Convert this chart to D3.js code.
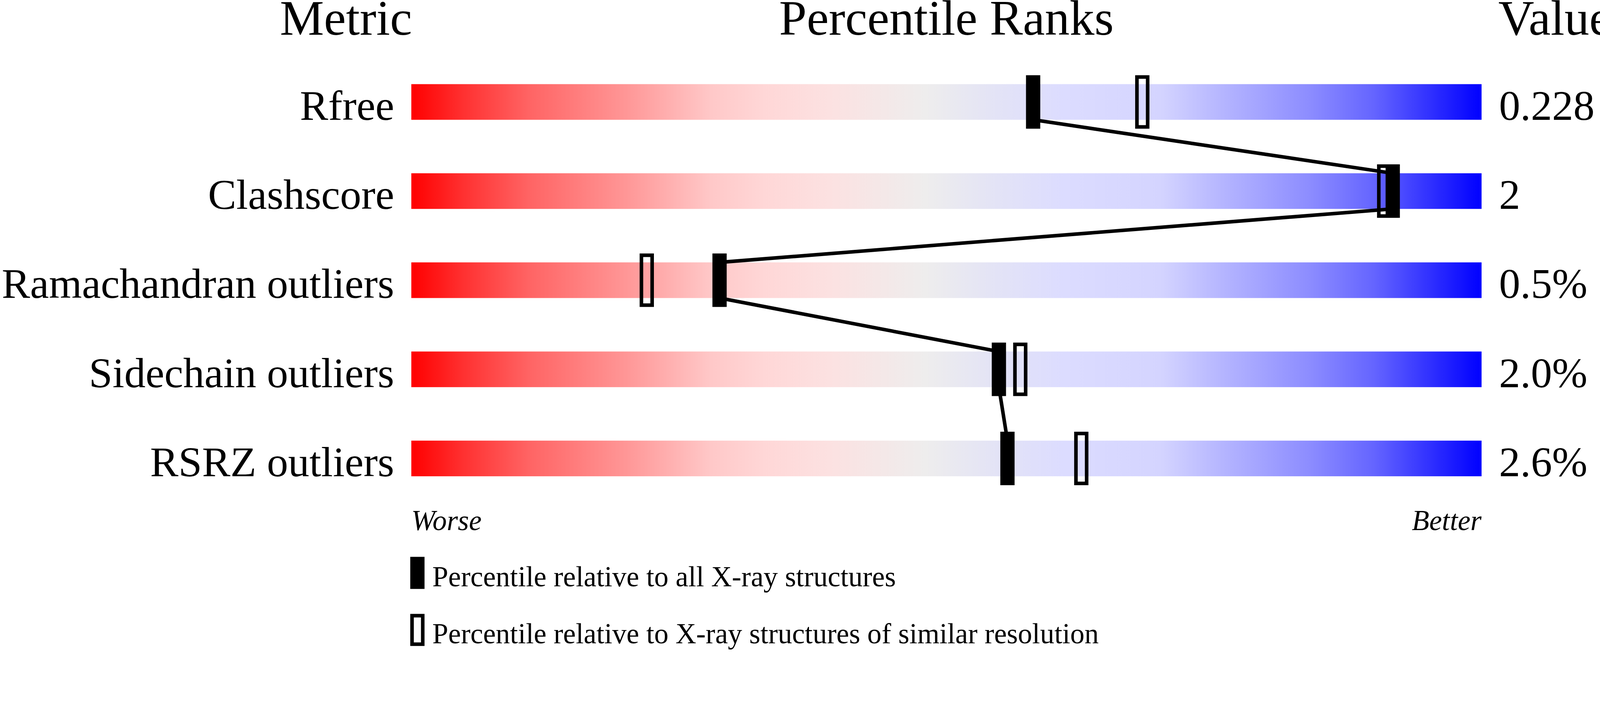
<!DOCTYPE html>
<html>
<head>
<meta charset="utf-8">
<script src="https://cdn.jsdelivr.net/npm/d3@7"></script>
<style>
  html, body { margin: 0; padding: 0; background: #fff; overflow: hidden; }
  svg { display: block; width: 100vw; height: 100vh; }
  text { font-family: "Liberation Serif", "Times New Roman", serif; fill: #000; }
</style>
</head>
<body>
<svg id="chart"></svg>
<script>
// data
const metrics = ["Rfree", "Clashscore", "Ramachandran outliers", "Sidechain outliers", "RSRZ outliers"];
const values = ["0.228", "2", "0.5%", "2.0%", "2.6%"];
// percentile relative to all X-ray structures (filled marker)
const pctAll = [58.1, 91.7, 28.8, 54.9, 55.7];
// percentile relative to structures of similar resolution (open marker)
const pctSimilar = [68.3, 90.9, 22.0, 56.9, 62.6];
const headers = ["Metric", "Percentile Ranks", "Value"];
const legendLabels = ["Percentile relative to all X-ray structures",
                      "Percentile relative to X-ray structures of similar resolution"];

const width = 4485, height = 1824;
// draw in a fixed 4485x1824 space, fit it to the window width, keep it at the top
const svg = d3.select("#chart")
  .attr("viewBox", `0 0 ${width} ${height}`)
  .attr("preserveAspectRatio", "xMidYMin meet");

const x = d3.scaleLinear().domain([0, 100]).range([1153, 4153]);
const y = d3.scaleBand()
  .domain(metrics)
  .range([161, 1411])
  .paddingInner(0.6)
  .paddingOuter(0.3);

const markW = 40, markOver = 25;

// red -> grey -> blue slider gradient
const grad = svg.append("defs").append("linearGradient")
  .attr("id", "slider")
  .attr("x1", "0%").attr("x2", "100%").attr("y1", "0%").attr("y2", "0%");
[
  [0, "rgb(255,0,0)"], [0.05, "rgb(255,50,50)"], [0.11, "rgb(255,100,100)"],
  [0.2, "rgb(255,150,150)"], [0.28, "rgb(255,200,200)"], [0.33, "rgb(255,215,215)"],
  [0.39, "rgb(252,225,225)"], [0.48, "rgb(238,237,237)"], [0.54, "rgb(228,228,245)"],
  [0.61, "rgb(220,220,255)"], [0.7, "rgb(212,212,255)"], [0.76, "rgb(180,180,255)"],
  [0.84, "rgb(140,140,255)"], [0.9, "rgb(100,100,255)"], [1, "rgb(0,0,255)"]
].forEach(s => grad.append("stop").attr("offset", s[0]).attr("stop-color", s[1]));

// headers
svg.append("text").attr("x", 1155).attr("y", 97).attr("text-anchor", "end")
  .style("font-size", "139px").text(headers[0]);
svg.append("text").attr("x", (x(0) + x(100)) / 2).attr("y", 97).attr("text-anchor", "middle")
  .style("font-size", "139px").text(headers[1]);
svg.append("text").attr("x", 4200).attr("y", 97).attr("text-anchor", "start")
  .style("font-size", "139px").text(headers[2]);

// bars
svg.selectAll(".bar")
  .data(metrics)
  .enter()
  .append("rect")
  .attr("class", "bar")
  .attr("x", x(0))
  .attr("y", d => y(d))
  .attr("width", x(100) - x(0))
  .attr("height", y.bandwidth())
  .attr("fill", "url(#slider)");

// metric labels and values
svg.selectAll(".label")
  .data(metrics)
  .enter()
  .append("text")
  .attr("x", 1105)
  .attr("y", d => y(d) + y.bandwidth())
  .attr("text-anchor", "end")
  .style("font-size", "119px")
  .text(d => d);

svg.selectAll(".value")
  .data(values)
  .enter()
  .append("text")
  .attr("x", 4202)
  .attr("y", (d, i) => y(metrics[i]) + y.bandwidth())
  .style("font-size", "119px")
  .text(d => d);

// connecting lines between the filled markers
for (let i = 0; i < metrics.length - 1; i++) {
  svg.append("line")
    .attr("x1", x(pctAll[i]))
    .attr("y1", y(metrics[i]) + y.bandwidth())
    .attr("x2", x(pctAll[i + 1]))
    .attr("y2", y(metrics[i + 1]))
    .attr("stroke", "#000")
    .attr("stroke-width", 10);
}

// open markers
svg.selectAll(".open")
  .data(pctSimilar)
  .enter()
  .append("rect")
  .attr("x", d => x(d) - markW / 2 + 5)
  .attr("y", (d, i) => y(metrics[i]) - markOver + 5)
  .attr("width", markW - 10)
  .attr("height", y.bandwidth() + 2 * markOver - 10)
  .attr("fill", "none")
  .attr("stroke", "#000")
  .attr("stroke-width", 10);

// filled markers
svg.selectAll(".filled")
  .data(pctAll)
  .enter()
  .append("rect")
  .attr("x", d => x(d) - markW / 2)
  .attr("y", (d, i) => y(metrics[i]) - markOver)
  .attr("width", markW)
  .attr("height", y.bandwidth() + 2 * markOver)
  .attr("fill", "#000");

// worse / better
svg.append("text").attr("x", x(0)).attr("y", 1487)
  .style("font-size", "80px").style("font-style", "italic").text("Worse");
svg.append("text").attr("x", x(100)).attr("y", 1487).attr("text-anchor", "end")
  .style("font-size", "80px").style("font-style", "italic").text("Better");

// legend
const legend = svg.append("g").attr("transform", "translate(1150, 1562)");
legend.append("rect").attr("x", 0).attr("y", 0).attr("width", 40).attr("height", 90).attr("fill", "#000");
legend.append("text").attr("x", 62).attr("y", 83).style("font-size", "80px").text(legendLabels[0]);
legend.append("rect").attr("x", 5).attr("y", 165).attr("width", 30).attr("height", 80)
  .attr("fill", "none").attr("stroke", "#000").attr("stroke-width", 10);
legend.append("text").attr("x", 62).attr("y", 243).style("font-size", "80px").text(legendLabels[1]);
</script>
</body>
</html>
